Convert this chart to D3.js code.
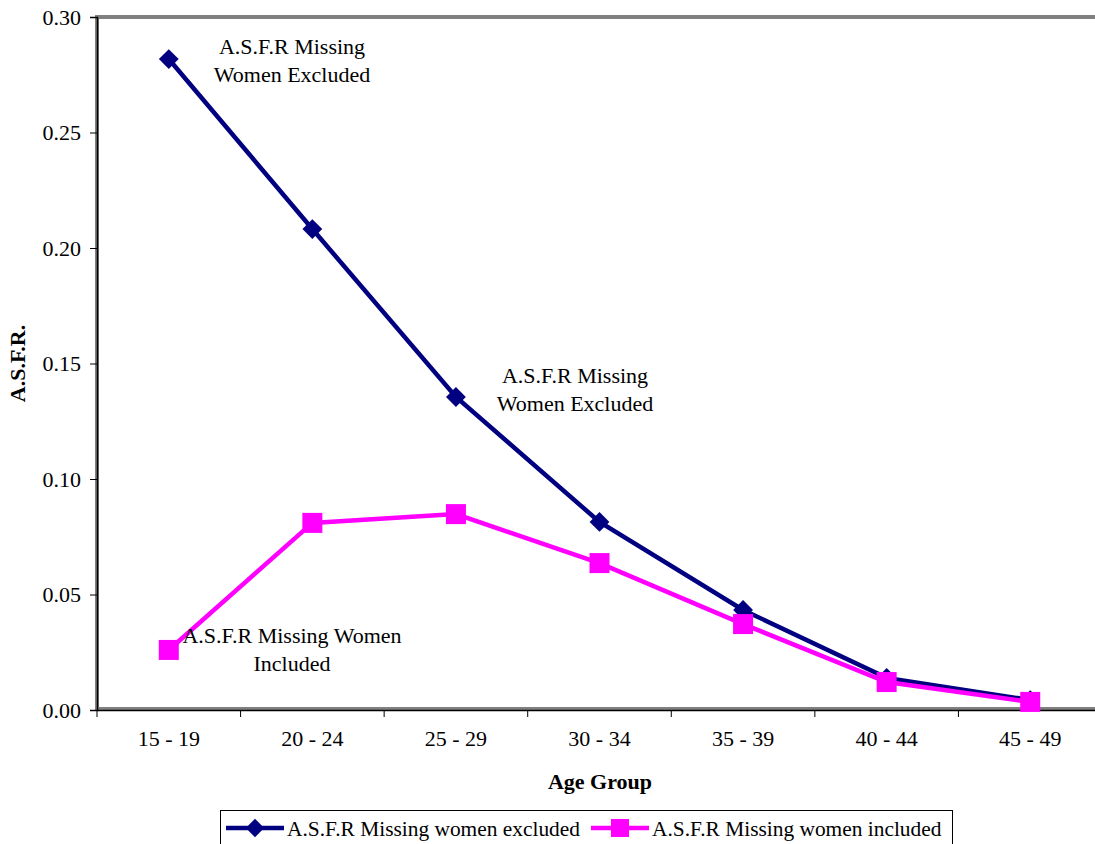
<!DOCTYPE html>
<html>
<head>
<meta charset="utf-8">
<script src="https://cdn.jsdelivr.net/npm/d3@7"></script>
<style>
  body { margin:0; background:#fff; }
  svg text { font-family: "Liberation Serif", "Times New Roman", serif; }
</style>
</head>
<body>
<script>
var width = 1095, height = 844;
var serif = "'Liberation Serif', 'Times New Roman', serif";

// data
var ageGroups = ["15 - 19","20 - 24","25 - 29","30 - 34","35 - 39","40 - 44","45 - 49"];
var excluded = [0.2818, 0.2082, 0.1355, 0.0814, 0.0433, 0.0139, 0.0043];
var included = [0.0260, 0.0810, 0.0848, 0.0636, 0.0372, 0.0121, 0.0035];
var yTicks = [0, 0.05, 0.10, 0.15, 0.20, 0.25, 0.30];

var svg = d3.select("body").append("svg")
            .attr("width", width)
            .attr("height", height);

var margin = {left:97, top:17, bottom:134};
var plotRight = 1102;   // plot runs off the right edge a little
var x = d3.scaleBand().domain(ageGroups).range([margin.left, plotRight]);
var y = d3.scaleLinear().domain([0, 0.30]).range([height - margin.bottom, margin.top]);

// gray frame (top, left, bottom)
svg.append("line").attr("x1", margin.left).attr("x2", width).attr("y1", y(0.30)).attr("y2", y(0.30))
   .attr("stroke", "#808080").attr("stroke-width", 4);
svg.append("line").attr("x1", margin.left).attr("x2", margin.left).attr("y1", y(0.30) - 2).attr("y2", y(0))
   .attr("stroke", "#808080").attr("stroke-width", 4);
svg.append("line").attr("x1", margin.left).attr("x2", width).attr("y1", y(0) - 1).attr("y2", y(0) - 1)
   .attr("stroke", "#808080").attr("stroke-width", 4);

// y axis
var yAxis = d3.axisLeft(y).tickValues(yTicks).tickFormat(d3.format(".2f")).tickSize(7).tickPadding(9);
var gy = svg.append("g").attr("transform", "translate(" + margin.left + ",0)").call(yAxis)
            .attr("font-family", serif).attr("font-size", 22);
gy.select(".domain").attr("stroke", "#000").attr("stroke-width", 1.5);
gy.selectAll(".tick line").attr("stroke", "#000");
gy.selectAll("text").attr("fill", "#000");

// x axis: ticks at the category boundaries
var xAxis = d3.axisBottom(x).tickSize(0).tickPadding(20);
var gx = svg.append("g").attr("transform", "translate(0," + y(0) + ")").call(xAxis)
            .attr("font-family", serif).attr("font-size", 22);
gx.select(".domain").attr("stroke", "#000").attr("stroke-width", 1.5);
gx.selectAll("text").attr("fill", "#000");
gx.selectAll(".bound").data(ageGroups).enter().append("line")
  .attr("class", "bound")
  .attr("x1", function(d){ return x(d); }).attr("x2", function(d){ return x(d); })
  .attr("y1", 0).attr("y2", 7).attr("stroke", "#000");

// axis titles
svg.append("text").attr("x", 600).attr("y", 789).attr("text-anchor", "middle")
   .style("font-size", "22px").style("font-weight", "bold").text("Age Group");
svg.append("text").attr("transform", "translate(25," + y(0.15) + ") rotate(-90)")
   .attr("text-anchor", "middle").style("font-size", "22px").style("font-weight", "bold")
   .text("A.S.F.R.");

function cx(d, i){ return x(ageGroups[i]) + x.bandwidth() / 2; }

var line = d3.line()
             .x(function(d, i){ return cx(d, i); })
             .y(function(d){ return y(d); });

// excluded series (navy, diamonds)
svg.append("path").attr("d", line(excluded))
   .attr("fill", "none").attr("stroke", "#000080").attr("stroke-width", 4.5);
svg.selectAll(".diamond").data(excluded).enter().append("rect")
   .attr("class", "diamond")
   .attr("x", -7).attr("y", -7).attr("width", 14).attr("height", 14)
   .attr("transform", function(d, i){ return "translate(" + cx(d, i) + "," + y(d) + ") rotate(45)"; })
   .attr("fill", "#000080");

// included series (magenta, squares)
svg.append("path").attr("d", line(included))
   .attr("fill", "none").attr("stroke", "#FF00FF").attr("stroke-width", 4.5);
svg.selectAll(".square").data(included).enter().append("rect")
   .attr("class", "square")
   .attr("x", function(d, i){ return cx(d, i) - 10; })
   .attr("y", function(d){ return y(d) - 10; })
   .attr("width", 20).attr("height", 20)
   .attr("fill", "#FF00FF");

// data labels
var notes = [
  {lines:["A.S.F.R Missing", "Women Excluded"], cx:292, y:54},
  {lines:["A.S.F.R Missing", "Women Excluded"], cx:575, y:383},
  {lines:["A.S.F.R Missing Women", "Included"], cx:292, y:643}
];
notes.forEach(function(n){
  var t = svg.append("text").attr("text-anchor", "middle").style("font-size", "22px").attr("fill", "#000");
  n.lines.forEach(function(l, k){
    t.append("tspan").attr("x", n.cx).attr("y", n.y + k * 28).text(l);
  });
});

// legend
var legend = svg.append("g");
legend.append("rect").attr("x", 220.5).attr("y", 810.5).attr("width", 732).attr("height", 50)
      .attr("fill", "#fff").attr("stroke", "#000").attr("stroke-width", 1);
var legendItems = [
  {name:"A.S.F.R Missing women excluded", color:"#000080", shape:"diamond", x0:226},
  {name:"A.S.F.R Missing women included", color:"#FF00FF", shape:"square", x0:591}
];
legendItems.forEach(function(it){
  var ly = 828;
  legend.append("line").attr("x1", it.x0).attr("x2", it.x0 + 58).attr("y1", ly).attr("y2", ly)
        .attr("stroke", it.color).attr("stroke-width", 4.5);
  if (it.shape == "diamond") {
    legend.append("rect").attr("x", -6.5).attr("y", -6.5).attr("width", 13).attr("height", 13)
          .attr("transform", "translate(" + (it.x0 + 29) + "," + ly + ") rotate(45)")
          .attr("fill", it.color);
  } else {
    legend.append("rect").attr("x", it.x0 + 20).attr("y", ly - 9).attr("width", 18).attr("height", 18)
          .attr("fill", it.color);
  }
  legend.append("text").attr("x", it.x0 + 61).attr("y", ly + 8)
        .style("font-size", "21.4px").attr("fill", "#000").text(it.name);
});
</script>
</body>
</html>
